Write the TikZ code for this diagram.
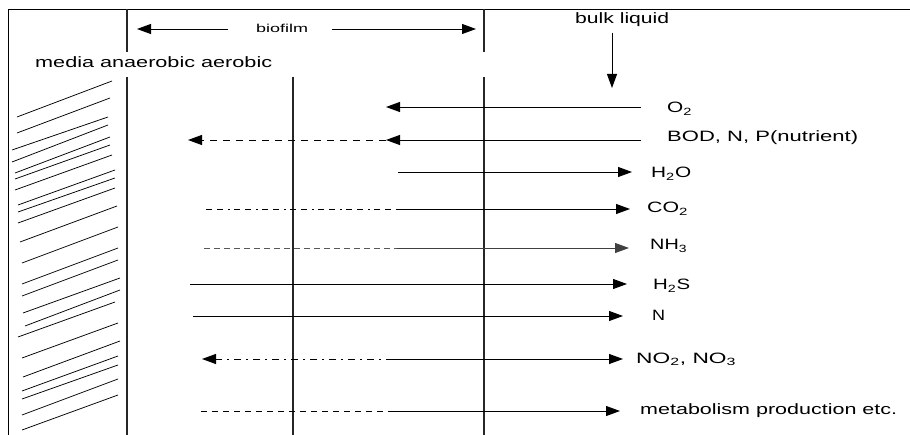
\documentclass[tikz,border=0pt]{standalone}
\usepackage{fontspec}
\setmainfont{Liberation Sans}
\usetikzlibrary{arrows.meta}
\newcommand{\fitw}[2]{\resizebox{#1pt}{\height}{#2}}
\begin{document}
\begin{tikzpicture}[x=1pt,y=-1pt,
  ln/.style={line width=0.9pt},
  vl/.style={line width=1.1pt, black!85},
  hatch/.style={line width=0.75pt},
  tip/.style={-{Triangle[length=14pt,width=10pt]}},
  dsh/.style={dash pattern=on 7pt off 6pt},
  dshb/.style={dash pattern=on 6pt off 5pt on 6pt off 5pt on 2pt off 4pt},
  lab/.style={inner sep=0pt, anchor=base west, font=\fontsize{15}{17}\selectfont},
  slab/.style={inner sep=0pt, anchor=base west, font=\fontsize{11.5}{13}\selectfont}]
\useasboundingbox (0,0) rectangle (910,435);
% frame
\coordinate (tl) at (8,9);
\coordinate (tr) at (910,9);
\coordinate (bl) at (8,435);
\draw[ln] (tr) -- (tl) -- (bl);
% vertical lines
\coordinate (a1) at (127,9);  \coordinate (a2) at (127,52);
\coordinate (a3) at (127,77); \coordinate (a4) at (127,435);
\coordinate (b3) at (293,77); \coordinate (b4) at (293,435);
\coordinate (c1) at (484,9);  \coordinate (c2) at (484,52);
\coordinate (c3) at (484,77); \coordinate (c4) at (484,435);
\draw[vl] (a1) -- (a2) (a3) -- (a4);
\draw[vl] (b3) -- (b4);
\draw[vl] (c1) -- (c2) (c3) -- (c4);
% hatching of the media
\foreach \xl/\yl/\xr/\yr in {17/117/112/81, 17/133/110/98, 12/150/108/117, 12/162/108/125,
  15/173/110/137, 15/179/110/145, 15/190/112/155, 18/205/115/170, 18/212/115/178,
  18/223/115/188, 20/242/117/206, 22/263/118/227, 22/284/118/248, 22/296/118/260,
  23/313/120/278, 25/326/120/290, 18/337/115/302, 22/358/118/323, 23/377/120/341,
  22/391/118/356, 22/399/118/365, 22/415/118/379, 22/430/118/395}
  \draw[hatch] (\xl,\yl) -- (\xr,\yr);
% top labels
\node[slab] (biofilm) at (256,33) {\fitw{52}{biofilm}};
\node[lab] (bulk) at (575,24) {\fitw{94}{bulk liquid}};
\node[lab] (media) at (35,68) {\fitw{237}{media anaerobic aerobic}};
\coordinate (bfl1) at (228,29); \coordinate (bfl2) at (137,29);
\coordinate (bfr1) at (332,29); \coordinate (bfr2) at (476,29);
\draw[ln,tip] (bfl1) -- (bfl2);
\draw[ln,tip] (bfr1) -- (bfr2);
\coordinate (dn1) at (612,33); \coordinate (dn2) at (612,88);
\draw[ln,tip] (dn1) -- (dn2);
% species labels
\node[lab] (lO2)  at (667,113) {\fitw{25}{O\textsubscript{2}}};
\node[lab] (lBOD) at (667,142) {\fitw{191}{BOD, N, P(nutrient)}};
\node[lab] (lH2O) at (651,178) {\fitw{40}{H\textsubscript{2}O}};
\node[lab] (lCO2) at (647,213) {\fitw{41}{CO\textsubscript{2}}};
\node[lab] (lNH3) at (650,250) {\fitw{37}{NH\textsubscript{3}}};
\node[lab] (lH2S) at (653,290) {\fitw{37}{H\textsubscript{2}S}};
\node[lab] (lN)   at (652,320) {\fitw{13}{N}};
\node[lab] (lNO)  at (636,363) {\fitw{100}{NO\textsubscript{2}, NO\textsubscript{3}}};
\node[lab] (lmet) at (640,414) {\fitw{257}{metabolism production etc.}};
% O2
\coordinate (o1) at (641,107); \coordinate (o2) at (386,107);
\draw[ln,tip] (o1) -- (o2);
% BOD
\coordinate (d1) at (641,140); \coordinate (d2) at (386,140); \coordinate (d3) at (188,140);
\draw[ln,tip] (d1) -- (d2);
\draw[ln,tip,dsh] (d2) -- (d3);
% H2O
\coordinate (h1) at (398,172); \coordinate (h2) at (632,172);
\draw[ln,tip] (h1) -- (h2);
% CO2
\coordinate (co1) at (206,209); \coordinate (co2) at (397,209); \coordinate (co3) at (630,209);
\draw[ln,dshb] (co1) -- (co2);
\draw[ln,tip] (co2) -- (co3);
% NH3
\coordinate (n1) at (204,248); \coordinate (n2) at (397,248); \coordinate (n3) at (629,248);
\draw[ln,black!65,dash pattern=on 6pt off 4pt] (n1) -- (n2);
\draw[ln,black!75,tip] (n2) -- (n3);
% H2S
\coordinate (s1) at (190,284); \coordinate (s2) at (627,284);
\draw[ln,tip] (s1) -- (s2);
% N
\coordinate (m1) at (193,316); \coordinate (m2) at (623,316);
\draw[ln,tip] (m1) -- (m2);
% NO2, NO3
\coordinate (x1) at (393,359); \coordinate (x2) at (202,359); \coordinate (x3) at (623,359);
\draw[ln,tip,dash pattern=on 7pt off 5pt on 2pt off 5pt] (x1) -- (x2);
\draw[ln,tip] (x1) -- (x3);
% metabolism
\coordinate (e1) at (201,411); \coordinate (e2) at (388,411); \coordinate (e3) at (620,411);
\draw[ln,dash pattern=on 6pt off 5pt] (e1) -- (e2);
\draw[ln,tip] (e2) -- (e3);
\end{tikzpicture}
\end{document}
